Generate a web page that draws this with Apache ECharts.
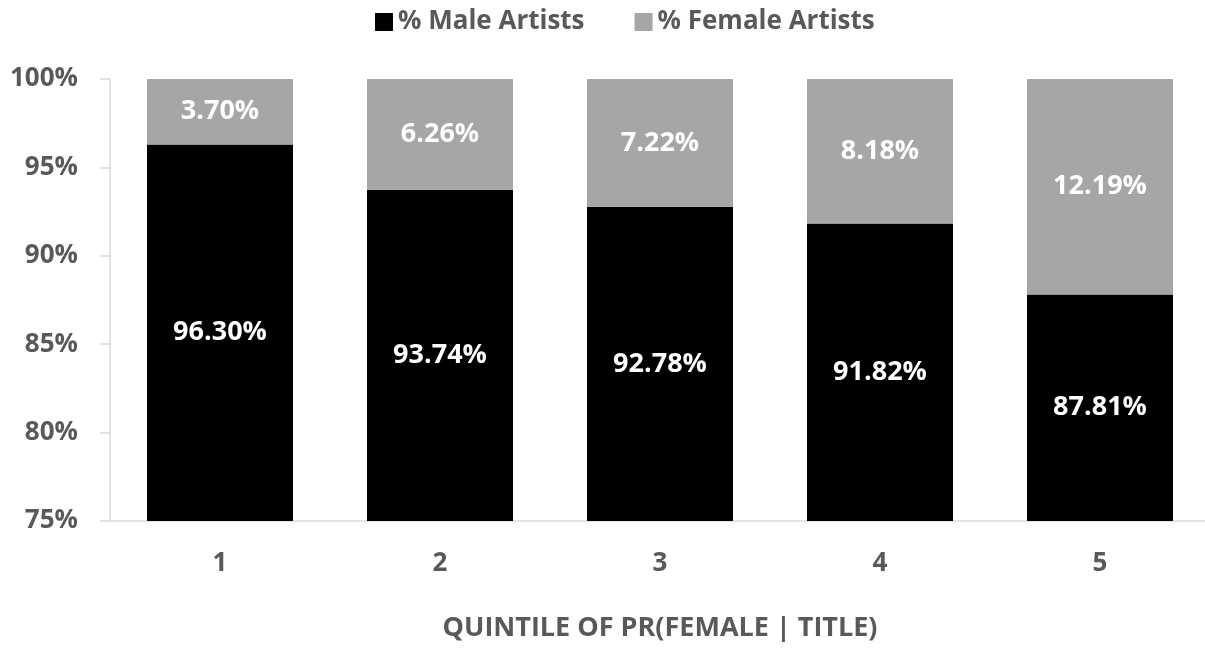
<!DOCTYPE html>
<html>
<head>
<meta charset="utf-8">
<script src="https://cdn.jsdelivr.net/npm/echarts@6/dist/echarts.min.js"></script>
<style>html,body{margin:0;padding:0;background:#fff}#c{width:1205px;height:650px}</style>
</head>
<body>
<div id="c"></div>
<script>
const categories = ['1', '2', '3', '4', '5'];
const maleValues = [96.30, 93.74, 92.78, 91.82, 87.81];
const femaleValues = [3.70, 6.26, 7.22, 8.18, 12.19];
const yTicks = [75, 80, 85, 90, 95, 100];

const FONT = '"Open Sans"';
const TXT = '#595959';
const chart = echarts.init(document.getElementById('c'));
const lbl = {
  show: true, position: 'inside', color: '#fff', fontFamily: FONT,
  fontWeight: 'bold', fontSize: 27,
  formatter: p => p.value.toFixed(2) + '%'
};
chart.setOption({
  animation: false,
  legend: {
    top: 4, left: 370, itemWidth: 18, itemHeight: 18, itemGap: 50,
    icon: 'rect',
    textStyle: { color: TXT, fontFamily: FONT, fontWeight: 'bold', fontSize: 26 },
    data: ['% Male Artists', '% Female Artists']
  },
  grid: { left: 110, right: -5, top: 79, bottom: 129, containLabel: false, outerBoundsMode: 'none' },
  xAxis: {
    type: 'category', data: categories,
    axisLine: { lineStyle: { color: '#d9d9d9', width: 1.5 } },
    axisTick: { show: false },
    axisLabel: { color: TXT, fontFamily: FONT, fontWeight: 'bold', fontSize: 26, margin: 30 },
    name: 'QUINTILE OF PR(FEMALE | TITLE)', nameLocation: 'middle', nameGap: 94,
    nameTextStyle: { color: TXT, fontFamily: FONT, fontWeight: 'bold', fontSize: 27 }
  },
  yAxis: {
    type: 'value', min: yTicks[0], max: yTicks[yTicks.length - 1], interval: 5,
    axisLine: { show: true, lineStyle: { color: '#d9d9d9', width: 1.5 } },
    axisTick: { show: true, length: 10, lineStyle: { color: '#d9d9d9', width: 1.5 } },
    splitLine: { show: false },
    axisLabel: { color: TXT, fontFamily: FONT, fontWeight: 'bold', fontSize: 26, margin: 32,
      formatter: v => v + '%' }
  },
  series: [
    { name: '% Male Artists', type: 'bar', stack: 's', data: maleValues, barWidth: 146,
      itemStyle: { color: '#000000' }, label: lbl },
    { name: '% Female Artists', type: 'bar', stack: 's', data: femaleValues, barWidth: 146,
      itemStyle: { color: '#a6a6a6' }, label: lbl }
  ]
});
</script>
</body>
</html>
